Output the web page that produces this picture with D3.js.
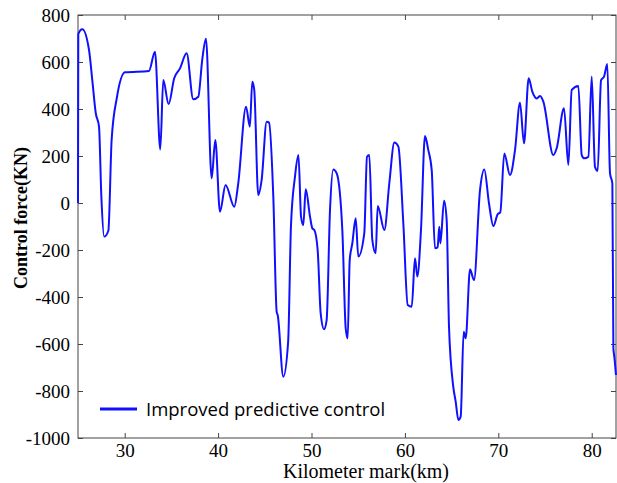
<!DOCTYPE html>
<html>
<head>
<meta charset="utf-8">
<script src="https://cdn.jsdelivr.net/npm/d3@7"></script>
<style>
  body { margin: 0; background: #fff; }
  svg { display: block; }
</style>
</head>
<body>
<div id="chart"></div>
<script>
// kilometer marks and control force (KN)
const km = [
  25.0, 25.03, 25.46, 26.18, 26.53, 26.9, 27.25, 27.5, 27.8, 28.25, 28.6, 29.17, 30.03,
  32.6, 33.24, 33.81, 34.13, 34.7, 35.3, 35.92, 36.63, 37.34, 37.88, 38.3, 38.7,
  39.31, 39.7, 40.2, 40.8, 41.73, 42.16, 42.99, 43.4, 43.66, 43.87, 44.3, 44.66,
  45.2, 45.45, 45.91, 46.27, 46.38, 46.98, 47.5, 47.8, 48.23, 48.6, 48.88, 49.12,
  49.38, 49.84, 50.09, 50.3, 50.66, 50.98, 51.34, 51.62, 51.98, 52.33, 52.7, 53.3,
  53.66, 53.87, 54.09, 54.37, 54.73, 55.01, 55.65, 55.94, 56.19, 56.51, 56.87, 57.09,
  57.8, 58.33, 58.87, 59.3, 59.83, 60.3, 60.73, 61.08, 61.33, 61.72, 62.15, 62.5,
  62.87, 63.22, 63.5, 63.68, 63.8, 64.19, 64.47, 64.72, 65.18, 65.44, 65.72, 65.97,
  66.29, 66.51, 66.97, 67.4, 68.04, 68.5, 69.0, 69.47, 69.94, 70.21, 70.64, 71.25,
  71.79, 72.32, 72.75, 73.25, 73.64, 74.11, 74.47, 74.82, 75.89, 76.25, 77.03, 77.5,
  77.86, 78.57, 78.93, 79.21, 79.64, 80.0, 80.35, 80.64, 81.0, 81.32, 81.67, 81.96,
  82.21, 82.32, 82.42, 82.6
];
const force = [
  0, 719, 739, 651, 523, 383, 325, 27, -143, -118, 268, 450, 556,
  562, 644, 228, 523, 421, 531, 573, 637, 441, 452, 609, 699,
  105, 268, -37, 77, -16, 85, 410, 325, 516, 481, 34, 98,
  346, 342, 27, -463, -477, -739, -590, -99, 112, 204, -58, -94,
  58, -58, -108, -115, -200, -469, -537, -498, -30, 143, 126, -115,
  -533, -576, -243, -172, -65, -228, -129, 197, 204, -157, -214, -13,
  -115, 84, 257, 240, -86, -434, -441, -235, -313, -115, 285, 226,
  140, -193, -189, -101, -172, 10, -72, -526, -782, -846, -923, -909,
  -548, -576, -282, -328, 55, 143, -1, -98, -47, -40, 211, 119,
  226, 427, 254, 531, 474, 445, 455, 431, 204, 233, 403, 162,
  481, 498, 204, 190, 197, 538, 154, 137, 523, 538, 591, 126,
  84, -618, -654, -732
];

const xTicks = [30, 40, 50, 60, 70, 80];
const yTicks = [800, 600, 400, 200, 0, -200, -400, -600, -800, -1000];
const seriesName = "Improved predictive control";

const width = 617, height = 483;
const margin = { left: 78, right: 1, top: 15, bottom: 45 };

const svg = d3.select("#chart").append("svg")
  .attr("width", width)
  .attr("height", height);

const x = d3.scaleLinear().domain([25, 82.6]).range([margin.left, width - margin.right]);
const y = d3.scaleLinear().domain([-1000, 800]).range([height - margin.bottom, margin.top]);

const axisColor = "#444";
const serif = "'Liberation Serif', 'Times New Roman', serif";
const plain = d => String(d); // hyphen minus, no thousands comma

// frame
svg.append("rect")
  .attr("x", x.range()[0]).attr("y", y.range()[1])
  .attr("width", x.range()[1] - x.range()[0])
  .attr("height", y.range()[0] - y.range()[1])
  .attr("fill", "none").attr("stroke", axisColor).attr("stroke-width", 1);

function styleAxis(g, showText) {
  g.select(".domain").remove();
  g.selectAll(".tick line").attr("stroke", axisColor);
  g.selectAll(".tick text")
    .attr("fill", "#000")
    .style("font-family", serif)
    .style("font-size", "19px")
    .style("display", showText ? null : "none");
}

// bottom / top
svg.append("g").attr("transform", `translate(0,${y.range()[0]})`)
  .call(d3.axisBottom(x).tickValues(xTicks).tickFormat(plain).tickSize(-5).tickPadding(6))
  .call(g => styleAxis(g, true));
svg.append("g").attr("transform", `translate(0,${y.range()[1]})`)
  .call(d3.axisTop(x).tickValues(xTicks).tickSize(-5))
  .call(g => styleAxis(g, false));

// left / right
svg.append("g").attr("transform", `translate(${x.range()[0]},0)`)
  .call(d3.axisLeft(y).tickValues(yTicks).tickFormat(plain).tickSize(-5).tickPadding(8))
  .call(g => styleAxis(g, true));
svg.append("g").attr("transform", `translate(${x.range()[1]},0)`)
  .call(d3.axisRight(y).tickValues(yTicks).tickSize(-5))
  .call(g => styleAxis(g, false));

// line
const data = km.map((k, i) => ({ k: k, f: force[i] }));
const line = d3.line()
  .x(d => x(d.k))
  .y(d => y(d.f))
  .curve(d3.curveMonotoneX);

svg.append("path")
  .datum(data)
  .attr("d", line)
  .attr("fill", "none")
  .attr("stroke", "#1010ff")
  .attr("stroke-width", 2)
  .attr("stroke-linejoin", "round");

// legend
const legend = svg.append("g").attr("transform", "translate(100,409)");
legend.append("line")
  .attr("x1", 0).attr("x2", 37).attr("y1", 0).attr("y2", 0)
  .attr("stroke", "#1010ff").attr("stroke-width", 3);
legend.append("text")
  .attr("x", 46).attr("y", 6.5)
  .style("font-family", "'Open Sans', sans-serif")
  .style("font-size", "18.5px")
  .text(seriesName);

// axis titles
svg.append("text")
  .attr("x", 366).attr("y", 478)
  .attr("text-anchor", "middle")
  .style("font-family", serif)
  .style("font-size", "20px")
  .text("Kilometer mark(km)");

svg.append("text")
  .attr("transform", "translate(27,218) rotate(-90)")
  .attr("text-anchor", "middle")
  .style("font-family", serif)
  .style("font-size", "18px")
  .style("font-weight", "bold")
  .text("Control force(KN)");
</script>
</body>
</html>
